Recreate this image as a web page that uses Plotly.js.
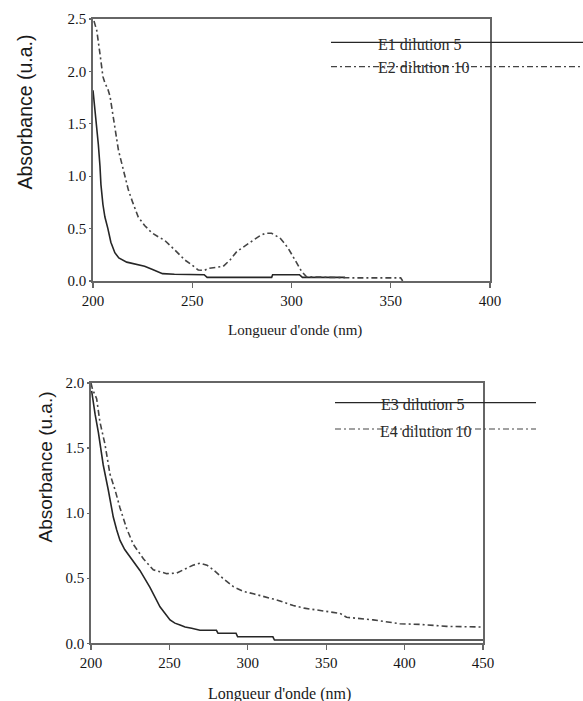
<!DOCTYPE html>
<html>
<head>
<meta charset="utf-8">
<script src="https://cdn.plot.ly/plotly-3.0.1.min.js"></script>
<style>html,body{margin:0;padding:0;background:#fff;}#chart{width:583px;height:701px;}</style>
</head>
<body>
<div id="chart"></div>
<script>
// ---- Data ----
const e1Wave = [200, 201, 202, 202.7, 203.5, 204, 205, 206, 207.5, 209, 211, 213, 217, 222, 226, 230, 235, 241, 256, 257.5, 290, 290.5, 304, 305.5, 327];
const e1Abs  = [1.82, 1.65, 1.45, 1.30, 1.10, 0.92, 0.73, 0.61, 0.50, 0.37, 0.27, 0.22, 0.18, 0.155, 0.14, 0.11, 0.07, 0.065, 0.06, 0.035, 0.035, 0.06, 0.06, 0.035, 0.035];

const e2Wave = [200.5, 201.9, 203.5, 205, 206, 207.5, 208.6, 210.2, 212.8, 215.3, 217.8, 220, 222.8, 226, 229.6, 233, 236, 241, 246.3, 250, 253, 256, 258, 265.6, 269, 272.4, 276, 280.8, 284, 286.7, 290, 292, 294.2, 296, 298.4, 301.8, 305.1, 307.6, 330, 355, 356];
const e2Abs  = [2.48, 2.39, 2.17, 1.95, 1.89, 1.83, 1.76, 1.57, 1.25, 1.06, 0.87, 0.75, 0.61, 0.53, 0.46, 0.42, 0.39, 0.30, 0.20, 0.15, 0.105, 0.10, 0.12, 0.14, 0.20, 0.28, 0.33, 0.39, 0.43, 0.455, 0.455, 0.43, 0.41, 0.37, 0.31, 0.20, 0.09, 0.04, 0.03, 0.03, 0.0];

const e3Wave = [200.4, 201.5, 202.6, 204.7, 207.8, 211, 214.2, 216.4, 218.5, 221.5, 224.9, 228, 231.2, 237.6, 244, 250.4, 253.5, 256.8, 260, 264.2, 269.5, 280, 281, 292.5, 293.5, 316, 317, 450];
const e3Abs  = [1.94, 1.84, 1.76, 1.62, 1.37, 1.18, 0.97, 0.87, 0.79, 0.72, 0.665, 0.61, 0.56, 0.43, 0.28, 0.18, 0.155, 0.14, 0.125, 0.115, 0.10, 0.10, 0.077, 0.077, 0.05, 0.05, 0.025, 0.025];

const e4Wave = [200, 201, 203.6, 205.7, 208.9, 212.1, 215.3, 218.5, 222.8, 227, 233.4, 239.7, 244, 248.3, 254.7, 261, 265, 269.5, 274, 278, 284, 290.8, 297, 303.6, 311.9, 316.3, 322, 329, 336, 343.9, 358.8, 363, 380, 397, 410, 426.8, 450];
const e4Abs  = [2.0, 1.95, 1.88, 1.70, 1.53, 1.30, 1.18, 1.04, 0.88, 0.76, 0.65, 0.565, 0.55, 0.535, 0.54, 0.575, 0.60, 0.615, 0.60, 0.565, 0.50, 0.435, 0.40, 0.38, 0.35, 0.34, 0.32, 0.29, 0.27, 0.255, 0.23, 0.20, 0.18, 0.15, 0.145, 0.13, 0.125];

const topXTicks = [200, 250, 300, 350, 400];
const topYTicks = [0, 0.5, 1.0, 1.5, 2.0, 2.5];
const botXTicks = [200, 250, 300, 350, 400, 450];
const botYTicks = [0, 0.5, 1.0, 1.5, 2.0];

const seriesNames = ['E1 dilution 5', 'E2 dilution 10', 'E3 dilution 5', 'E4 dilution 10'];
const xTitle = "Longueur d'onde (nm)";
const yTitle = 'Absorbance (u.a.)';

// ---- Styling ----
const W = 583, H = 701;
const px = v => v / W;
const py = v => 1 - v / H;
const solidColor = '#262626';
const dashColor = '#444444';
const dashPattern = '6px,3px,2px,3px';
const serif = 'Liberation Serif, Times New Roman, serif';
const sans = 'Liberation Sans, Arial, sans-serif';
const tickFont = {family: serif, size: 15, color: '#151515'};

const traces = [
  {x: e1Wave, y: e1Abs, xaxis: 'x', yaxis: 'y', mode: 'lines', name: seriesNames[0], line: {color: solidColor, width: 1.6}},
  {x: e2Wave, y: e2Abs, xaxis: 'x', yaxis: 'y', mode: 'lines', name: seriesNames[1], line: {color: dashColor, width: 1.6, dash: dashPattern}},
  {x: e3Wave, y: e3Abs, xaxis: 'x2', yaxis: 'y2', mode: 'lines', name: seriesNames[2], line: {color: solidColor, width: 1.6}},
  {x: e4Wave, y: e4Abs, xaxis: 'x2', yaxis: 'y2', mode: 'lines', name: seriesNames[3], line: {color: dashColor, width: 1.6, dash: dashPattern}}
];

const axisCommon = {
  showline: true, mirror: true, linecolor: '#666666', linewidth: 1.7,
  showgrid: false, zeroline: false, ticks: 'outside', tickcolor: '#666666',
  tickwidth: 1.2, tickfont: tickFont, fixedrange: true
};

const layout = {
  width: W, height: H,
  margin: {l: 0, r: 0, t: 0, b: 0},
  paper_bgcolor: '#fff', plot_bgcolor: '#fff',
  showlegend: false,
  xaxis: Object.assign({}, axisCommon, {domain: [px(93), px(490)], range: [200, 400], tickvals: topXTicks, ticklen: 5, anchor: 'y'}),
  yaxis: Object.assign({}, axisCommon, {domain: [py(281), py(19)], range: [0, 2.5], tickvals: topYTicks, tickformat: '.1f', ticklen: 2, ticklabelstandoff: 0, anchor: 'x'}),
  xaxis2: Object.assign({}, axisCommon, {domain: [px(91), px(483)], range: [200, 450], tickvals: botXTicks, ticklen: 5, anchor: 'y2'}),
  yaxis2: Object.assign({}, axisCommon, {domain: [py(643.3), py(383)], range: [0, 2.0], tickvals: botYTicks, tickformat: '.1f', ticklen: 2, ticklabelstandoff: 0, anchor: 'x2'}),
  shapes: [
    {type: 'line', xref: 'paper', yref: 'paper', x0: px(331), x1: px(583), y0: py(42.3), y1: py(42.3), line: {color: solidColor, width: 1.3}},
    {type: 'line', xref: 'paper', yref: 'paper', x0: px(331), x1: px(583), y0: py(66.7), y1: py(66.7), line: {color: dashColor, width: 1.2, dash: dashPattern}},
    {type: 'line', xref: 'paper', yref: 'paper', x0: px(335), x1: px(536), y0: py(402.7), y1: py(402.7), line: {color: solidColor, width: 1.3}},
    {type: 'line', xref: 'paper', yref: 'paper', x0: px(335), x1: px(536), y0: py(429), y1: py(429), line: {color: dashColor, width: 1.2, dash: dashPattern}}
  ],
  annotations: [
    {text: seriesNames[0], xref: 'paper', yref: 'paper', x: px(376), y: py(44), xanchor: 'left', yanchor: 'middle', showarrow: false, font: {family: serif, size: 16, color: '#2a2a2a'}},
    {text: seriesNames[1], xref: 'paper', yref: 'paper', x: px(376), y: py(68), xanchor: 'left', yanchor: 'middle', showarrow: false, font: {family: serif, size: 16, color: '#2a2a2a'}},
    {text: seriesNames[2], xref: 'paper', yref: 'paper', x: px(379), y: py(405), xanchor: 'left', yanchor: 'middle', showarrow: false, font: {family: serif, size: 16, color: '#2a2a2a'}},
    {text: seriesNames[3], xref: 'paper', yref: 'paper', x: px(378), y: py(431), xanchor: 'left', yanchor: 'middle', showarrow: false, font: {family: serif, size: 16, color: '#2a2a2a'}},
    {text: yTitle, xref: 'paper', yref: 'paper', x: px(24), y: py(112.5), xanchor: 'center', yanchor: 'middle', textangle: -90, showarrow: false, font: {family: sans, size: 19.5, color: '#1a1a1a'}},
    {text: yTitle, xref: 'paper', yref: 'paper', x: px(45), y: py(467.5), xanchor: 'center', yanchor: 'middle', textangle: -90, showarrow: false, font: {family: sans, size: 19, color: '#1a1a1a'}},
    {text: xTitle, xref: 'paper', yref: 'paper', x: px(295), y: py(330), xanchor: 'center', yanchor: 'middle', showarrow: false, font: {family: serif, size: 15, color: '#1a1a1a'}},
    {text: xTitle, xref: 'paper', yref: 'paper', x: px(279), y: py(694), xanchor: 'center', yanchor: 'middle', showarrow: false, font: {family: serif, size: 16, color: '#1a1a1a'}}
  ]
};

Plotly.newPlot('chart', traces, layout, {displayModeBar: false, staticPlot: true});
</script>
</body>
</html>
